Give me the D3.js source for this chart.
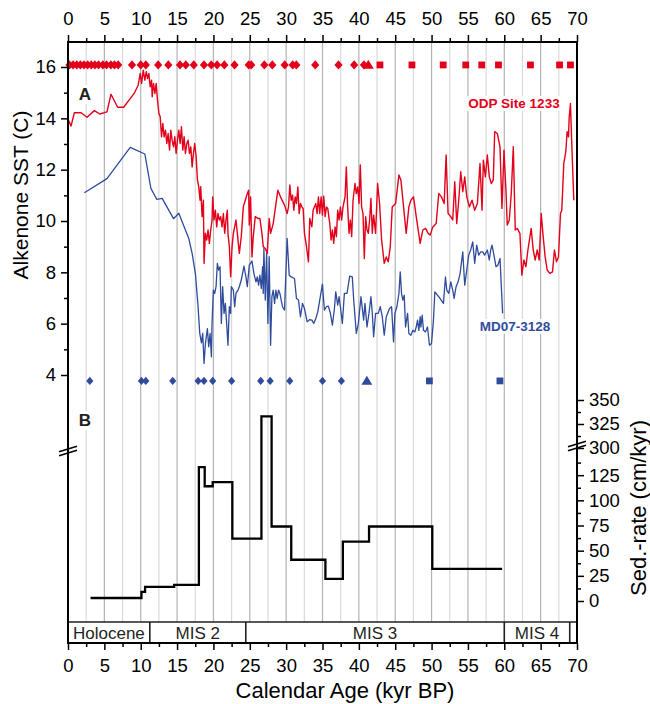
<!DOCTYPE html>
<html>
<head>
<meta charset="utf-8">
<script src="https://cdn.jsdelivr.net/npm/d3@7"></script>
<style>
body { margin: 0; background: #fff; }
text { font-family: "Liberation Sans", Arial, sans-serif; }
</style>
</head>
<body>
<div id="chart"></div>
<script>
// ---- data ----
// ODP Site 1233 alkenone SST [age kyr, SST C]
var redSeries = [
  [0.06,13.93],[0.42,13.70],[0.88,14.22],[1.80,14.22],[2.62,14.04],[3.63,14.30],[4.36,14.17],[5.36,14.25],[5.91,14.94],[6.83,14.43],
  [7.65,14.43],[9.10,14.97],[9.66,15.30],[9.93,15.75],[10.12,15.36],[10.35,15.88],[10.57,15.49],[10.76,15.82],[10.94,15.55],[11.12,15.75],
  [11.30,15.23],[11.49,15.49],[11.58,14.84],[11.76,15.36],[11.95,14.97],[12.13,15.36],[12.31,14.71],[12.50,14.19],[12.68,14.06],[12.86,13.28],
  [13.04,13.80],[13.22,13.28],[13.41,13.54],[13.59,13.02],[13.77,13.41],[13.96,12.76],[14.14,13.54],[14.32,13.15],[14.51,12.89],[14.69,13.28],
  [14.87,12.63],[15.06,13.15],[15.24,13.54],[15.42,13.02],[15.60,13.67],[15.79,12.76],[15.97,13.28],[16.15,12.63],[16.34,13.02],[16.52,13.15],
  [16.70,12.63],[16.89,12.89],[17.07,12.11],[17.25,12.63],[17.43,13.02],[17.62,12.50],[17.80,11.60],[17.98,11.34],[18.16,10.81],[18.25,11.34],
  [18.44,10.17],[18.62,10.81],[18.71,8.35],[18.89,9.52],[19.08,9.26],[19.26,9.65],[19.44,9.13],[19.63,9.65],[19.81,10.04],[19.90,10.94],
  [20.08,10.04],[20.27,10.42],[20.45,9.77],[20.63,10.29],[20.82,10.04],[21.00,10.17],[21.18,9.77],[21.37,10.29],[21.55,9.52],[21.73,10.04],
  [21.91,10.42],[22.00,9.52],[22.19,9.00],[22.37,7.83],[22.56,9.00],[22.74,9.52],[22.92,9.77],[23.10,10.04],[23.29,9.52],
  [23.56,8.74],[23.83,9.39],[24.11,10.55],[24.38,10.81],[24.66,11.07],[24.84,11.20],[24.93,9.84],[25.11,10.94],[25.30,8.60],[25.48,9.39],
  [25.75,10.17],[26.12,10.10],[26.39,10.10],[26.67,9.52],[26.85,9.00],[27.13,8.93],[27.40,8.74],[27.67,10.10],[27.86,9.52],[28.22,9.90],
  [28.86,11.20],[29.32,10.88],[29.78,10.62],[30.14,10.29],[30.33,10.55],[30.51,11.40],[30.69,10.81],[30.88,11.01],[31.06,10.42],[31.24,10.94],
  [31.42,10.68],[31.61,11.33],[31.79,10.29],[31.97,10.68],[32.16,10.55],[32.34,10.49],[32.52,9.52],[32.80,9.00],[33.07,8.41],[33.25,10.10],
  [33.53,9.77],[33.71,10.42],[33.89,10.55],[34.08,10.68],[34.26,10.29],[34.44,10.94],[34.62,10.29],[34.81,10.94],[34.99,10.23],[35.17,10.97],
  [35.36,10.17],[35.54,10.55],[35.72,10.49],[36.00,9.90],[36.18,9.26],[36.36,9.65],[36.54,9.13],[36.73,9.77],[36.91,9.39],[37.09,10.42],
  [37.28,10.04],[37.46,10.55],[37.64,10.04],[37.82,10.55],[38.10,10.94],[38.28,12.11],[38.46,10.55],[38.65,9.52],[38.83,10.04],[39.01,9.39],
  [39.20,10.81],[39.47,11.46],[39.65,11.07],[39.84,11.33],[40.02,10.68],[40.20,12.18],[40.38,10.55],[40.57,10.29],[40.75,8.54],[40.93,10.17],
  [41.12,9.65],[41.30,9.52],[41.48,10.04],[41.66,10.88],[41.85,9.52],[42.03,10.23],[42.30,9.52],[42.58,11.46],[42.85,10.68],[43.13,9.26],
  [43.49,8.35],[43.77,8.60],[44.04,8.41],[44.32,9.00],[44.59,10.55],[45.05,10.68],[45.51,11.79],[45.78,11.60],
  [46.24,10.29],[46.51,9.52],[46.88,10.55],[47.15,10.81],[47.52,10.94],[47.89,10.17],[48.43,9.13],[48.80,9.65],[49.17,9.71],[49.53,9.52],
  [49.81,9.45],[50.17,9.77],[50.63,9.90],[50.99,11.07],[51.36,10.94],[51.73,10.68],[52.00,12.57],[52.27,10.29],[52.64,10.17],[52.91,10.04],
  [53.19,11.53],[53.46,9.90],[53.74,10.81],[54.01,11.92],[54.29,11.14],[54.56,11.72],[54.84,10.94],[55.20,10.55],[55.57,10.81],[55.93,10.42],
  [56.30,10.68],[56.66,12.24],[56.94,10.42],[57.12,12.37],[57.40,11.72],[57.67,12.57],[57.94,11.72],[58.22,11.46],[58.49,11.60],[58.68,13.48],
  [59.04,13.41],[59.41,12.89],[59.68,10.49],[59.96,12.76],[60.23,11.20],[60.41,9.84],[60.69,10.04],[60.96,11.07],[61.24,12.89],[61.51,9.65],
  [61.78,9.71],[62.15,9.52],[62.42,7.89],[62.70,8.48],[62.97,8.22],[63.25,8.87],[63.70,9.71],[63.98,8.87],[64.25,8.48],[64.53,8.87],
  [64.80,8.48],[65.08,10.29],[65.35,9.39],[65.62,8.60],[65.90,8.09],[66.26,7.96],[66.63,8.02],[66.90,8.87],[67.18,8.41],[67.45,8.60],
  [67.73,10.29],[67.91,10.42],[68.18,12.24],[68.46,12.70],[68.64,13.48],[68.83,13.28],[68.92,14.00],[69.10,14.58],[69.28,13.02],[69.56,10.81]
];

// MD07-3128 alkenone SST [age kyr, SST C]
var blueSeries = [
  [2.25,11.10],[5.36,11.65],[8.56,12.87],[10.57,12.61],[11.40,11.27],[12.22,10.84],[12.95,10.88],[14.51,10.09],[15.24,10.30],[16.61,9.32],
  [17.07,8.74],[17.52,7.95],[17.89,6.66],[18.12,5.62],[18.35,5.25],[18.53,5.62],[18.71,4.45],[18.90,5.23],[19.17,5.81],[19.35,5.10],
  [19.54,5.62],[19.72,4.71],[19.81,6.01],[19.99,7.31],[20.18,7.18],[20.36,7.44],[20.54,8.35],[20.72,8.09],[20.91,8.22],[21.09,6.01],
  [21.27,7.44],[21.46,6.40],[21.64,6.79],[21.82,6.01],[22.00,5.16],[22.19,6.66],[22.37,6.40],[22.46,7.44],[22.74,7.31],[22.92,6.66],
  [23.10,7.18],[23.38,7.31],
  [23.56,7.44],[23.83,7.70],[24.20,8.24],[24.47,7.82],[24.66,7.44],[24.93,8.28],[25.30,8.44],[25.57,7.95],[25.85,7.63],[26.03,7.82],
  [26.21,7.50],[26.39,7.89],[26.58,7.37],[26.76,8.22],[26.85,7.18],[26.94,8.93],[27.13,6.92],[27.31,8.74],[27.40,7.44],[27.49,6.01],
  [27.67,8.61],[27.86,5.16],[28.04,7.05],[28.22,7.31],[28.41,6.79],[28.59,7.31],[28.77,6.98],[28.95,7.31],[29.14,7.18],[29.50,6.66],
  [29.78,6.53],[30.14,9.32],[30.42,7.89],[30.69,7.82],[31.15,7.76],[31.42,6.98],[31.70,6.92],[31.97,6.27],[32.25,6.79],[32.52,6.59],
  [32.89,6.07],[33.25,6.16],[33.53,6.14],[33.80,6.01],[34.08,6.20],[34.35,6.46],[34.62,6.92],[34.99,7.54],[35.26,6.53],[35.54,6.66],
  [35.81,6.68],[36.09,6.40],[36.36,5.94],[36.64,6.59],[36.82,7.24],[37.09,6.72],[37.28,7.05],[37.46,6.66],[37.73,6.01],[38.01,7.18],
  [38.37,7.18],[38.74,7.85],[39.10,7.82],[39.29,6.92],[39.65,5.62],[39.93,6.01],[40.29,7.05],[40.66,6.14],[40.84,6.79],[41.12,5.87],
  [41.39,6.40],[41.66,7.05],[41.85,6.40],[42.03,5.49],[42.30,6.40],[42.67,6.40],[42.94,6.66],[43.22,6.27],[43.49,5.55],[43.77,6.27],
  [43.95,6.40],[44.22,6.59],[44.50,6.66],[44.77,5.29],[44.96,6.40],[45.23,6.66],[45.51,7.18],[45.69,8.02],[45.87,7.18],[46.05,6.92],
  [46.24,7.11],[46.42,5.87],[46.70,6.40],[46.88,5.62],[47.15,5.55],[47.43,5.74],[47.70,5.68],[47.89,5.87],[48.07,6.14],[48.25,5.74],
  [48.43,6.27],[48.53,5.87],[48.71,6.33],[48.89,5.74],[49.17,5.68],[49.44,5.87],[49.71,5.16],[49.99,5.23],[50.26,6.14],[50.45,7.24],
  [50.81,7.11],[51.18,6.98],[51.63,6.79],[51.91,7.82],[52.09,7.31],[52.37,7.18],[52.64,7.63],[52.91,7.31],[53.10,6.98],[53.37,7.44],
  [53.65,7.63],[53.92,7.95],[54.29,8.80],[54.56,7.50],[54.84,8.09],[55.11,8.67],[55.38,8.87],[55.66,9.19],[55.93,8.35],[56.21,9.06],
  [56.48,8.67],[56.76,8.80],[57.03,8.80],[57.30,8.67],[57.67,8.87],[57.94,8.48],[58.13,8.87],[58.31,9.06],[58.58,8.67],[58.86,8.22],
  [59.13,8.28],[59.41,8.54],[59.77,6.40]
];

// age-control points (kyr)
var redDiamondAges = [0.2,0.7,1.2,1.7,2.2,2.7,3.2,3.7,4.2,4.8,5.3,5.9,6.4,6.9,8.8,10.0,10.7,12.4,13.8,15.4,16.2,17.3,18.7,19.7,20.5,21.5,22.9,24.85,25.2,27.0,28.1,29.8,30.9,31.4,34.0,37.2,39.35,40.7];
var redTriangleAges = [41.3];
var redSquareAges = [42.9,47.3,51.6,54.7,56.9,59.2,63.6,67.6,69.1];
var blueDiamondAges = [3.0,10.1,10.7,14.4,17.9,18.7,19.9,22.5,26.5,27.8,30.5,35.0,37.6];
var blueTriangleAges = [41.1];
var blueSquareAges = [49.7,59.4];

// sedimentation rate, MD07-3128 (step starts, kyr; last entry is the end)
var sedAge = [3.1,10.1,10.6,14.6,18.0,18.8,19.9,22.6,26.6,28.0,30.7,35.4,37.8,41.4,50.1,59.7];
var sedRate = [3,9,14,16,133,114,118,62,333,74,41,22,59,74,32];

// marine isotope stages
var misNames = ["Holocene","MIS 2","MIS 3","MIS 4",""];
var misStart = [0,11.25,24.45,60,69];
var misEnd = [11.25,24.45,60,69,70];

var ageTicks = d3.range(0, 71, 5);
var ageMinor = d3.range(2.5, 70, 5);
var sstTicks = d3.range(4, 17, 2);
var sstMinor = d3.range(5, 16, 2);
var sedTicks = [0,25,50,75,100,125,300,325,350];
var sedMinor = [12.5,37.5,62.5,87.5,112.5,137.5,312.5,337.5];

// ---- layout ----
var svgWidth = 650;
var svgHeight = 704;
var frame = {left: 68, right: 577, top: 42, bottom: 643, band: 622};
var red = "#e2001a";
var blue = "#2f4c9c";

var svg = d3.select("#chart")
    .append("svg")
    .attr("width", svgWidth)
    .attr("height", svgHeight);

var xScale = d3.scaleLinear().domain([0, 70]).range([frame.left, frame.right]);
var yScale = d3.scaleLinear().domain([4, 16]).range([375, 67]);
// broken axis: 0-152 below, 300-360 above the break
var sedScale = d3.scaleLinear().domain([0, 152, 300, 360]).range([601, 448, 448, 390.4]);

// vertical grid lines every 2.5 kyr
svg.append("g").selectAll("line")
    .data(d3.range(2.5, 70, 2.5))
    .enter()
    .append("line")
    .attr("x1", d => xScale(d))
    .attr("x2", d => xScale(d))
    .attr("y1", frame.top)
    .attr("y2", frame.band)
    .attr("stroke", d => d % 5 === 0 ? "#b3b3b3" : "#dadada")
    .attr("stroke-width", 1.2);

// white boxes behind the in-plot labels
function boxLabel(x, y, txt, color, size, anchor) {
    var t = svg.append("text")
        .attr("x", x)
        .attr("y", y)
        .attr("text-anchor", anchor)
        .attr("font-size", size)
        .attr("font-weight", "bold")
        .attr("fill", color)
        .text(txt);
    var bb = t.node().getBBox();
    svg.insert("rect", "text")
        .attr("x", bb.x - 2)
        .attr("y", bb.y)
        .attr("width", bb.width + 4)
        .attr("height", bb.height)
        .attr("fill", "#fff");
}

// SST lines
var sstLine = d3.line()
    .x(d => xScale(d[0]))
    .y(d => yScale(d[1]));

svg.append("path")
    .datum(blueSeries)
    .attr("d", sstLine)
    .attr("fill", "none")
    .attr("stroke", blue)
    .attr("stroke-width", 1.3)
    .attr("stroke-linejoin", "round");

svg.append("path")
    .datum(redSeries)
    .attr("d", sstLine)
    .attr("fill", "none")
    .attr("stroke", red)
    .attr("stroke-width", 1.4)
    .attr("stroke-linejoin", "round");

// sed-rate step plot
var sedPoints = sedAge.map((a, i) => [a, sedRate[Math.min(i, sedRate.length - 1)]]);
svg.append("path")
    .datum(sedPoints)
    .attr("d", d3.line().x(d => xScale(d[0])).y(d => sedScale(d[1])).curve(d3.curveStepAfter))
    .attr("fill", "none")
    .attr("stroke", "#000")
    .attr("stroke-width", 2.3);

// age-control markers
function diamond(w, h) { return `M0,${-h}L${w},0L0,${h}L${-w},0Z`; }
function square(s) { return `M${-s},${-s}H${s}V${s}H${-s}Z`; }
function triangle(s) { return `M0,${-s}L${s * 1.05},${s * 0.75}L${-s * 1.05},${s * 0.75}Z`; }

function markers(ages, level, shape, color) {
    svg.append("g").selectAll("path")
        .data(ages)
        .enter()
        .append("path")
        .attr("transform", d => `translate(${xScale(d)},${yScale(level)})`)
        .attr("d", shape)
        .attr("fill", color);
}
markers(redDiamondAges, 16.08, diamond(4.1, 4.6), red);
markers(redTriangleAges, 16.08, triangle(5.2), red);
markers(redSquareAges, 16.08, square(3.4), red);
markers(blueDiamondAges, 3.77, diamond(3.6, 4.2), blue);
markers(blueTriangleAges, 3.77, triangle(5.2), blue);
markers(blueSquareAges, 3.77, square(3.4), blue);

boxLabel(514, 108, "ODP Site 1233", red, "13.5px", "middle");
boxLabel(515, 331, "MD07-3128", blue, "13.5px", "middle");
boxLabel(85, 100, "A", "#231f20", "17px", "middle");
boxLabel(85, 426, "B", "#231f20", "17px", "middle");

// MIS band
var band = svg.append("g");
band.append("line")
    .attr("x1", frame.left).attr("x2", frame.right)
    .attr("y1", frame.band).attr("y2", frame.band)
    .attr("stroke", "#231f20").attr("stroke-width", 1.6);
band.selectAll(".misEdge")
    .data(misEnd.slice(0, 4))
    .enter()
    .append("line")
    .attr("class", "misEdge")
    .attr("x1", d => xScale(d)).attr("x2", d => xScale(d))
    .attr("y1", frame.band).attr("y2", frame.bottom)
    .attr("stroke", "#231f20").attr("stroke-width", 1.6);
band.selectAll("text")
    .data(misNames)
    .enter()
    .append("text")
    .attr("x", (d, i) => (xScale(misStart[i]) + xScale(misEnd[i])) / 2)
    .attr("y", 639)
    .attr("text-anchor", "middle")
    .attr("font-size", "17px")
    .attr("fill", "#231f20")
    .text(d => d);

// axes
function styleAxis(g) {
    g.select(".domain").remove();
    g.selectAll(".tick line").attr("stroke", "#000").attr("stroke-width", 1.5);
    g.selectAll(".tick text").attr("font-size", "18.5px").attr("fill", "#000")
        .attr("font-family", "'Liberation Sans', Arial, sans-serif");
}

svg.append("g").attr("transform", `translate(0,${frame.top})`)
    .call(d3.axisTop(xScale).tickValues(ageTicks).tickSize(7).tickPadding(10).tickFormat(d3.format("d")))
    .call(styleAxis);
svg.append("g").attr("transform", `translate(0,${frame.top})`)
    .call(d3.axisTop(xScale).tickValues(ageMinor).tickSize(4).tickFormat(""))
    .call(styleAxis);

svg.append("g").attr("transform", `translate(0,${frame.bottom})`)
    .call(d3.axisBottom(xScale).tickValues(ageTicks).tickSize(7).tickPadding(9).tickFormat(d3.format("d")))
    .call(styleAxis);
svg.append("g").attr("transform", `translate(0,${frame.bottom})`)
    .call(d3.axisBottom(xScale).tickValues(ageMinor).tickSize(4).tickFormat(""))
    .call(styleAxis);

svg.append("g").attr("transform", `translate(${frame.left},0)`)
    .call(d3.axisLeft(yScale).tickValues(sstTicks).tickSize(7).tickPadding(5).tickFormat(d3.format("d")))
    .call(styleAxis);
svg.append("g").attr("transform", `translate(${frame.left},0)`)
    .call(d3.axisLeft(yScale).tickValues(sstMinor).tickSize(4).tickFormat(""))
    .call(styleAxis);

svg.append("g").attr("transform", `translate(${frame.right},0)`)
    .call(d3.axisRight(sedScale).tickValues(sedTicks).tickSize(7).tickPadding(5).tickFormat(d3.format("d")))
    .call(styleAxis);
svg.append("g").attr("transform", `translate(${frame.right},0)`)
    .call(d3.axisRight(sedScale).tickValues(sedMinor).tickSize(4).tickFormat(""))
    .call(styleAxis);

// frame
svg.append("rect")
    .attr("x", frame.left)
    .attr("y", frame.top)
    .attr("width", frame.right - frame.left)
    .attr("height", frame.bottom - frame.top)
    .attr("fill", "none")
    .attr("stroke", "#000")
    .attr("stroke-width", 2);

// axis break marks
function breakMark(cx, cy) {
    [-2, 2].forEach(function(off) {
        svg.append("line")
            .attr("x1", cx - 9).attr("y1", cy + off + 2.8)
            .attr("x2", cx + 9).attr("y2", cy + off - 2.8)
            .attr("stroke", "#000").attr("stroke-width", 1.6);
    });
}
breakMark(frame.left, 451);
breakMark(frame.right, 446);

// axis titles
svg.append("text")
    .attr("transform", "translate(28,195) rotate(-90)")
    .attr("text-anchor", "middle")
    .attr("font-size", "21px")
    .text("Alkenone SST (C)");

svg.append("text")
    .attr("transform", "translate(646,508) rotate(-90)")
    .attr("text-anchor", "middle")
    .attr("font-size", "22px")
    .text("Sed.-rate (cm/kyr)");

svg.append("text")
    .attr("x", 345)
    .attr("y", 698)
    .attr("text-anchor", "middle")
    .attr("font-size", "22px")
    .text("Calendar Age (kyr BP)");
</script>
</body>
</html>
